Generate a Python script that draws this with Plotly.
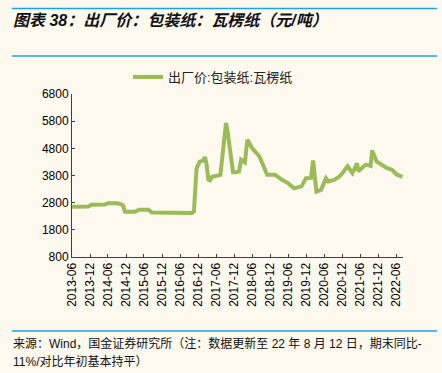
import plotly.graph_objects as go

dates = [
    "2013-06-01", "2013-11-15", "2013-12-15", "2014-05-01", "2014-06-01", "2014-09-01",
    "2014-10-15", "2014-11-01", "2014-11-20", "2015-03-01", "2015-04-15", "2015-07-15",
    "2015-08-20", "2016-06-01", "2016-10-01", "2016-10-20", "2016-11-01", "2016-11-15",
    "2016-12-15", "2017-01-20", "2017-02-10", "2017-02-25", "2017-03-15", "2017-04-01",
    "2017-04-20", "2017-06-01", "2017-07-15", "2017-08-01", "2017-09-01", "2017-09-10",
    "2017-09-25", "2017-11-01", "2017-11-20", "2017-12-20", "2018-01-20", "2018-02-10",
    "2018-03-05", "2018-03-20", "2018-04-15", "2018-06-01", "2018-07-01", "2018-08-15",
    "2018-11-01", "2019-01-20", "2019-04-01", "2019-06-01", "2019-08-01", "2019-10-15",
    "2019-12-01", "2020-01-20", "2020-02-10", "2020-03-15", "2020-05-01", "2020-06-20",
    "2020-07-15", "2020-09-10", "2020-11-01", "2020-12-05", "2021-01-25", "2021-03-15",
    "2021-05-01", "2021-05-15", "2021-07-10", "2021-08-01", "2021-09-15", "2021-10-01",
    "2021-11-15", "2022-01-10", "2022-03-01", "2022-04-20", "2022-06-10", "2022-08-05",
]
prices = [
    2650, 2660, 2720, 2730, 2780, 2780,
    2740, 2700, 2470, 2470, 2540, 2540,
    2440, 2420, 2420, 2480, 3000, 4050,
    4300, 4350, 4480, 4200, 3650, 3620,
    3750, 3800, 3820, 4400, 5600, 5730,
    5450, 4300, 3920, 3920, 3950, 4380,
    4300, 4280, 5120, 4810, 4690, 4500,
    3830, 3830, 3640, 3520, 3330, 3400,
    3700, 3710, 4350, 3210, 3270, 3700,
    3580, 3640, 3760, 3890, 4140, 3890,
    4250, 3950, 4150, 4200, 4150, 4720,
    4320, 4200, 4070, 4010, 3830, 3750,
]
series_name = "出厂价:包装纸:瓦楞纸"
tick_vals = ["2013-06-01", "2013-12-01", "2014-06-01", "2014-12-01", "2015-06-01", "2015-12-01",
             "2016-06-01", "2016-12-01", "2017-06-01", "2017-12-01", "2018-06-01", "2018-12-01",
             "2019-06-01", "2019-12-01", "2020-06-01", "2020-12-01", "2021-06-01", "2021-12-01",
             "2022-06-01"]
tick_text = ["2013-06", "2013-12", "2014-06", "2014-12", "2015-06", "2015-12",
             "2016-06", "2016-12", "2017-06", "2017-12", "2018-06", "2018-12",
             "2019-06", "2019-12", "2020-06", "2020-12", "2021-06", "2021-12",
             "2022-06"]
y_ticks = [800, 1800, 2800, 3800, 4800, 5800, 6800]

title_text = "<b><i>图表 38：出厂价：包装纸：瓦楞纸（元/吨）</i></b>"
source_l1 = "来源：Wind，国金证券研究所（注：数据更新至 22 年 8 月 12 日，期末同比-"
source_l2 = "11%/对比年初基本持平）"

BG = "#FDF9EF"
BLUE = "#1BA3E3"
GREEN = "#9BBB59"
FONT = "Arial, Liberation Sans, Noto Sans CJK SC"

# plot area pixel geometry
L, R, T, B = 72, 403, 94, 257
W, H = R - L, B - T
def px(x):
    return (x - L) / W
def py(y):
    return (B - y) / H

fig = go.Figure()
fig.add_trace(go.Scatter(
    x=dates, y=prices, mode="lines", name=series_name,
    line=dict(color=GREEN, width=4), showlegend=True,
))

fig.update_layout(
    width=442, height=373,
    margin=dict(l=L, r=442 - R, t=T, b=373 - B),
    paper_bgcolor=BG, plot_bgcolor=BG,
    font=dict(family=FONT, size=12, color="#000000"),
    showlegend=True,
    legend=dict(orientation="h", x=px(128), xanchor="left", y=py(77), yanchor="middle",
                font=dict(size=13, color="#222222"), bgcolor="rgba(0,0,0,0)"),
    xaxis=dict(
        type="date", range=["2013-06-01", "2022-08-10"],
        tickmode="array", tickvals=tick_vals, ticktext=tick_text, tickangle=-90,
        ticks="inside", ticklen=3, tickcolor="#404040",
        showline=True, linecolor="#404040", linewidth=1,
        showgrid=False, zeroline=False, tickfont=dict(size=12),
    ),
    yaxis=dict(
        range=[800, 6800], tickmode="array", tickvals=y_ticks,
        ticks="inside", ticklen=3, tickcolor="#404040",
        showline=True, linecolor="#404040", linewidth=1,
        showgrid=False, zeroline=False, tickfont=dict(size=12),
    ),
    shapes=[
        dict(type="line", xref="paper", yref="paper", x0=px(12), x1=px(437), y0=py(8.5), y1=py(8.5),
             line=dict(color=BLUE, width=1.5)),
        dict(type="line", xref="paper", yref="paper", x0=px(12), x1=px(437), y0=py(56), y1=py(56),
             line=dict(color=BLUE, width=1.5)),
        dict(type="line", xref="paper", yref="paper", x0=px(12), x1=px(437), y0=py(331), y1=py(331),
             line=dict(color=BLUE, width=1.5)),
    ],
    annotations=[
        dict(text=" ", xref="paper", yref="paper", x=px(12), y=py(8.5), xanchor="left",
             yanchor="middle", showarrow=False, width=425, height=1, bgcolor=BLUE,
             borderpad=0, borderwidth=0, font=dict(size=1)),
        dict(text=title_text, xref="paper", yref="paper", x=px(11), y=py(20), xanchor="left",
             yanchor="middle", showarrow=False, font=dict(size=16, color="#111111")),
        dict(text=source_l1, xref="paper", yref="paper", x=px(11), y=py(343), xanchor="left",
             yanchor="middle", showarrow=False, font=dict(size=12, color="#111111")),
        dict(text=source_l2, xref="paper", yref="paper", x=px(11), y=py(361), xanchor="left",
             yanchor="middle", showarrow=False, font=dict(size=12, color="#111111")),
    ],
)

fig.write_html(
    "out.html",
    config={"displayModeBar": False},
    post_script="document.body.style.margin='0';document.body.style.background='%s';" % BG,
)
